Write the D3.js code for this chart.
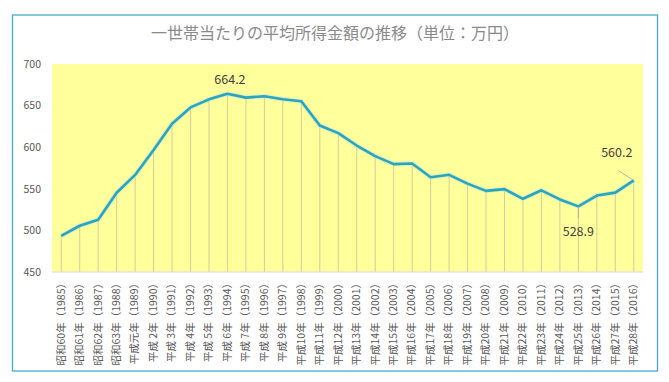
<!DOCTYPE html>
<html><head><meta charset="utf-8">
<script src="https://cdn.jsdelivr.net/npm/d3@7"></script>
<style>
html,body{margin:0;padding:0;background:#fff;}
svg{display:block;font-family:"Noto Sans CJK JP","Noto Sans",sans-serif;}
</style></head>
<body>
<svg id="c" width="669" height="382"></svg>
<script>
const title = "一世帯当たりの平均所得金額の推移（単位：万円）";
const categories = ["昭和60年","昭和61年","昭和62年","昭和63年","平成元年","平成 2年","平成 3年","平成 4年","平成 5年","平成 6年","平成 7年","平成 8年","平成 9年","平成10年","平成11年","平成12年","平成13年","平成14年","平成15年","平成16年","平成17年","平成18年","平成19年","平成20年","平成21年","平成22年","平成23年","平成24年","平成25年","平成26年","平成27年","平成28年"];
const years = [1985,1986,1987,1988,1989,1990,1991,1992,1993,1994,1995,1996,1997,1998,1999,2000,2001,2002,2003,2004,2005,2006,2007,2008,2009,2010,2011,2012,2013,2014,2015,2016];
const values = [493.3,505.6,512.9,545.3,566.7,596.6,628.2,647.8,657.5,664.2,659.6,661.2,657.7,655.2,626.0,616.9,602.0,589.3,579.7,580.4,563.8,566.8,556.2,547.5,549.6,538.0,548.2,537.2,528.9,541.9,545.4,560.2];
const yTicks = [450,500,550,600,650,700];

const svg = d3.select("#c");
const plot = {left:52, right:643, top:64, bottom:272};

svg.append("rect").attr("x",12.5).attr("y",15).attr("width",645).attr("height",356)
  .attr("fill","#fff").attr("stroke","#4aa8cf").attr("stroke-width",1.3);

svg.append("text").attr("x",335).attr("y",35).attr("text-anchor","middle")
  .attr("dominant-baseline","middle").attr("font-size",16).attr("fill","#8a8a8a").text(title);

const x = d3.scaleBand().domain(years).range([plot.left, plot.right]).padding(0);
const y = d3.scaleLinear().domain([450,700]).range([plot.bottom, plot.top]);
const cx = d => x(d) + x.bandwidth()/2;

svg.append("rect").attr("x",plot.left).attr("y",plot.top)
  .attr("width",plot.right-plot.left).attr("height",plot.bottom-plot.top).attr("fill","#ffff9c");

const data = years.map((yr,i)=>({yr, v:values[i], cat:categories[i]}));

svg.append("g").selectAll("line").data(data).join("line")
  .attr("x1",d=>cx(d.yr)).attr("x2",d=>cx(d.yr))
  .attr("y1",d=>y(d.v)).attr("y2",y(450))
  .attr("stroke","#d3cd9c").attr("stroke-width",1);

svg.append("line").attr("x1",plot.left).attr("x2",plot.right)
  .attr("y1",y(450)).attr("y2",y(450)).attr("stroke","#d9d9d9").attr("stroke-width",1);

const ya = svg.append("g").attr("transform",`translate(${plot.left},0)`)
  .call(d3.axisLeft(y).tickValues(yTicks).tickSize(0).tickPadding(11));
ya.select(".domain").remove();
ya.selectAll("text").attr("font-size",10.5).attr("fill","#595959")
  .attr("font-family","'Noto Sans CJK JP',sans-serif");

svg.append("g").selectAll("text").data(data).join("text")
  .attr("transform",d=>`translate(${cx(d.yr)+0.5},278) rotate(-90)`)
  .attr("text-anchor","end").attr("dominant-baseline","middle")
  .attr("font-size",10.5).attr("fill","#595959").style("white-space","pre")
  .text(d=>`${d.cat}（${d.yr}）`);

const line = d3.line().x(d=>cx(d.yr)).y(d=>y(d.v));
svg.append("path").datum(data).attr("d",line).attr("fill","none")
  .attr("stroke","#bfe3e0").attr("stroke-width",4.5).attr("stroke-linejoin","round").attr("opacity",0.6);
svg.append("path").datum(data).attr("d",line).attr("fill","none")
  .attr("stroke","#2aa5bb").attr("stroke-width",2.6).attr("stroke-linejoin","round");

const lab = svg.append("g").attr("font-size",12.5).attr("fill","#404040").attr("text-anchor","middle");
const d94 = data.find(d=>d.yr===1994);
lab.append("text").attr("x",cx(d94.yr)+2.5).attr("y",y(d94.v)-10).text(d94.v.toFixed(1));
const d13 = data.find(d=>d.yr===2013);
svg.append("line").attr("x1",cx(d13.yr)).attr("x2",cx(d13.yr)).attr("y1",y(d13.v)).attr("y2",y(d13.v)+12)
  .attr("stroke","#a6a6a6").attr("stroke-width",0.8);
lab.append("text").attr("x",cx(d13.yr)).attr("y",y(d13.v)+30).text(d13.v.toFixed(1));
const d16 = data.find(d=>d.yr===2016);
svg.append("line").attr("x1",cx(d16.yr)).attr("x2",cx(d16.yr)-16).attr("y1",y(d16.v)).attr("y2",y(d16.v)-10)
  .attr("stroke","#a6a6a6").attr("stroke-width",0.8);
lab.append("text").attr("x",cx(d16.yr)-17).attr("y",y(d16.v)-23).text(d16.v.toFixed(1));
</script>
</body></html>
